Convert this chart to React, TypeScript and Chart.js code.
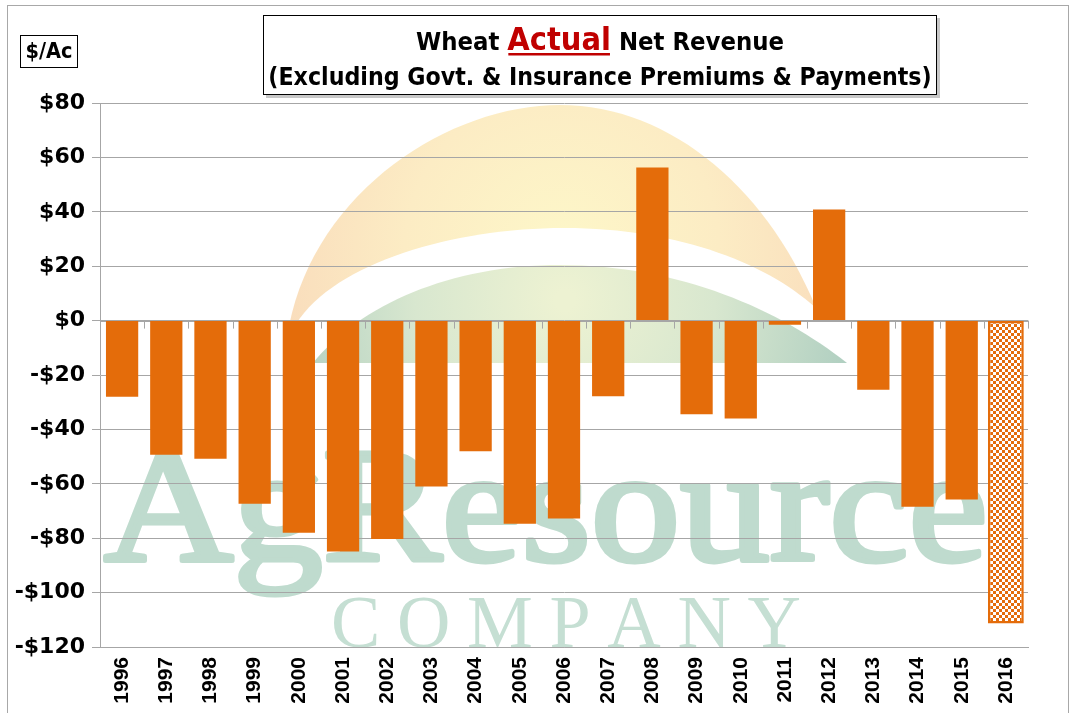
import React, { useEffect, useRef } from "react";
import { Chart, registerables } from "chart.js";

Chart.register(...registerables);

// ---------- data ----------
const years = [
  "1996", "1997", "1998", "1999", "2000", "2001", "2002", "2003", "2004", "2005", "2006",
  "2007", "2008", "2009", "2010", "2011", "2012", "2013", "2014", "2015", "2016",
];
const actualNet: (number | null)[] = [
  -28, -49.3, -50.8, -67.3, -78, -84.9, -80.3, -61, -48, -74.7, -72.8,
  -27.8, 56.3, -34.4, -36, -1.5, 40.8, -25.4, -68.4, -65.8, null,
];
const projectedNet: (number | null)[] = [
  null, null, null, null, null, null, null, null, null, null, null,
  null, null, null, null, null, null, null, null, null, -111.4,
];
const yMin = -120;
const yMax = 80;
const yStep = 20;
const titleParts = ["Wheat ", "Actual", " Net Revenue"];
const titleLine2 = "(Excluding Govt. & Insurance Premiums & Payments)";
const unitLabel = "$/Ac";
const watermarkMain = "AgResource";
const watermarkSub = "COMPANY";

const ORANGE = "#E46C0A";
const GRID = "#a6a6a6";
const TITLE_FAMILY = '"Liberation Sans Narrow", "DejaVu Sans Condensed", "Liberation Sans", Arial, sans-serif';

function makeChecker(ctx: CanvasRenderingContext2D) {
  const c = document.createElement("canvas");
  c.width = 6;
  c.height = 6;
  const g = c.getContext("2d")!;
  g.fillStyle = "#ffffff";
  g.fillRect(0, 0, 6, 6);
  g.fillStyle = ORANGE;
  g.fillRect(0, 0, 3, 3);
  g.fillRect(3, 3, 3, 3);
  return ctx.createPattern(c, "repeat");
}

const logoPlugin = {
  id: "logoBackdrop",
  beforeDraw(chart: any) {
    const ctx: CanvasRenderingContext2D = chart.ctx;
    ctx.save();
    ctx.fillStyle = "#ffffff";
    ctx.fillRect(0, 0, chart.width, chart.height);

    // outer frame
    ctx.strokeStyle = "#a8a8a8";
    ctx.lineWidth = 1;
    ctx.strokeRect(7.5, 5.5, 1061, 740);

    // sun
    const sun = ctx.createRadialGradient(562, 250, 15, 562, 250, 300);
    sun.addColorStop(0, "#fdf6c8");
    sun.addColorStop(0.5, "#fcecc4");
    sun.addColorStop(1, "#f9dbbb");
    ctx.fillStyle = sun;
    ctx.beginPath();
    ctx.moveTo(289, 326);
    ctx.bezierCurveTo(316, 190, 450, 105, 560, 105);
    ctx.bezierCurveTo(672, 105, 772, 192, 820, 318);
    ctx.closePath();
    ctx.fill();

    // white band
    ctx.fillStyle = "#ffffff";
    ctx.beginPath();
    ctx.moveTo(296, 324);
    ctx.bezierCurveTo(335, 262, 455, 228, 564, 228);
    ctx.bezierCurveTo(680, 228, 772, 265, 820, 312);
    ctx.lineTo(864, 372);
    ctx.lineTo(292, 372);
    ctx.closePath();
    ctx.fill();

    // green hill
    const gr = ctx.createRadialGradient(565, 300, 10, 565, 300, 290);
    gr.addColorStop(0, "#edf2d2");
    gr.addColorStop(0.5, "#d8e7cf");
    gr.addColorStop(1, "#b0cfc1");
    ctx.fillStyle = gr;
    ctx.beginPath();
    ctx.moveTo(313, 363);
    ctx.bezierCurveTo(360, 305, 450, 265, 560, 265);
    ctx.bezierCurveTo(680, 265, 780, 310, 847, 363);
    ctx.closePath();
    ctx.fill();

    // watermark text
    ctx.fillStyle = "#bfdbce";
    ctx.strokeStyle = "#bfdbce";
    ctx.lineWidth = 5;
    ctx.lineJoin = "round";
    ctx.textBaseline = "alphabetic";
    ctx.textAlign = "left";
    ctx.font = '164px "Liberation Serif", serif';
    const w = ctx.measureText(watermarkMain).width;
    ctx.save();
    ctx.translate(104, 560);
    ctx.scale(884 / w, 1);
    ctx.fillText(watermarkMain, 0, 0);
    ctx.strokeText(watermarkMain, 0, 0);
    ctx.restore();

    ctx.fillStyle = "#c5dfd3";
    ctx.font = '74px "Liberation Serif", serif';
    const letters = watermarkSub.split("");
    const widths = letters.map((l) => ctx.measureText(l).width);
    const total = widths.reduce((a, b) => a + b, 0);
    const gap = (470 - total) / (letters.length - 1);
    let x = 331;
    letters.forEach((l, i) => {
      ctx.fillText(l, x, 647);
      x += widths[i] + gap;
    });
    ctx.restore();
  },
};

const zeroTicksPlugin = {
  id: "zeroTicks",
  beforeDatasetsDraw(chart: any) {
    const ctx: CanvasRenderingContext2D = chart.ctx;
    const xs = chart.scales.x;
    const ys = chart.scales.y;
    const y0 = ys.getPixelForValue(0);
    const n = years.length;
    const step = (xs.right - xs.left) / n;
    ctx.save();
    ctx.strokeStyle = GRID;
    ctx.lineWidth = 1;
    ctx.beginPath();
    ctx.moveTo(xs.left, Math.round(y0) + 0.5);
    ctx.lineTo(xs.right, Math.round(y0) + 0.5);
    for (let i = 0; i <= n; i++) {
      const x = Math.round(xs.left + i * step) + 0.5;
      ctx.moveTo(x, y0);
      ctx.lineTo(x, y0 + 8);
    }
    ctx.stroke();
    ctx.restore();
  },
};

const titlePlugin = {
  id: "titleBoxes",
  afterDraw(chart: any) {
    const ctx: CanvasRenderingContext2D = chart.ctx;
    ctx.save();
    // title box
    ctx.fillStyle = "#c8c8c8";
    ctx.fillRect(266, 18, 674, 80);
    ctx.fillStyle = "#ffffff";
    ctx.fillRect(263, 15, 674, 80);
    ctx.strokeStyle = "#000000";
    ctx.lineWidth = 1;
    ctx.strokeRect(263.5, 15.5, 673, 79);

    const cx = 600;
    const F = (s: number) => `bold ${s}px ${TITLE_FAMILY}`;
    let s1 = 26;
    let s2 = 33;
    const measure1 = () => {
      ctx.font = F(s1);
      const a = ctx.measureText(titleParts[0]).width;
      const c = ctx.measureText(titleParts[2]).width;
      ctx.font = F(s2);
      const b = ctx.measureText(titleParts[1]).width;
      return [a, b, c];
    };
    let [wa, wb, wc] = measure1();
    const k = 368 / (wa + wb + wc);
    s1 *= k;
    s2 *= k;
    [wa, wb, wc] = measure1();
    let x = cx - (wa + wb + wc) / 2;
    const base1 = 50;
    ctx.textBaseline = "alphabetic";
    ctx.textAlign = "left";
    ctx.fillStyle = "#000000";
    ctx.font = F(s1);
    ctx.fillText(titleParts[0], x, base1);
    x += wa;
    ctx.fillStyle = "#C00000";
    ctx.font = F(s2);
    ctx.fillText(titleParts[1], x, base1);
    ctx.fillRect(x + 1, base1 + 3, wb - 2, 2.5);
    x += wb;
    ctx.fillStyle = "#000000";
    ctx.font = F(s1);
    ctx.fillText(titleParts[2], x, base1);

    // line 2
    let s3 = 24;
    ctx.font = F(s3);
    const w2 = ctx.measureText(titleLine2).width;
    s3 = (s3 * 664) / w2;
    ctx.font = F(s3);
    ctx.textAlign = "center";
    ctx.fillText(titleLine2, cx, 85);

    // unit box
    ctx.fillStyle = "#ffffff";
    ctx.fillRect(20, 35, 57, 32);
    ctx.strokeStyle = "#000000";
    ctx.strokeRect(20.5, 35.5, 57, 32);
    ctx.fillStyle = "#000000";
    let s4 = 22;
    ctx.font = F(s4);
    const w4 = ctx.measureText(unitLabel).width;
    s4 = (s4 * 47) / w4;
    ctx.font = F(Math.min(s4, 26));
    ctx.textAlign = "center";
    ctx.textBaseline = "middle";
    ctx.fillText(unitLabel, 49, 52);
    ctx.restore();
  },
};

export default function App() {
  const ref = useRef<HTMLCanvasElement | null>(null);

  useEffect(() => {
    document.body.style.margin = "0";
    const canvas = ref.current!;
    const ctx = canvas.getContext("2d")!;
    const checker = makeChecker(ctx);

    const chart = new Chart(ctx, {
      type: "bar",
      data: {
        labels: years,
        datasets: [
          {
            label: "Actual",
            data: actualNet,
            backgroundColor: ORANGE,
            borderWidth: 0,
            barPercentage: 0.73,
            categoryPercentage: 1,
            grouped: false,
          } as any,
          {
            label: "Projected",
            data: projectedNet,
            backgroundColor: checker as any,
            borderColor: ORANGE,
            borderWidth: 2.5,
            borderSkipped: false,
            barPercentage: 0.81,
            categoryPercentage: 1,
            grouped: false,
          } as any,
        ],
      },
      options: {
        animation: false,
        responsive: true,
        maintainAspectRatio: false,
        devicePixelRatio: 1,
        layout: { padding: { top: 103, right: 46, left: 0, bottom: 0 } },
        plugins: {
          legend: { display: false },
          title: { display: false },
          tooltip: { enabled: false },
        },
        scales: {
          x: {
            type: "category",
            grid: { display: false, drawTicks: false },
            border: { display: true, color: GRID, width: 1 },
            ticks: {
              autoSkip: false,
              maxRotation: 90,
              minRotation: 90,
              padding: 10,
              color: "#000000",
              font: { family: '"Liberation Sans", Arial, sans-serif', size: 21, weight: "bold" },
            },
            afterFit: (scale: any) => {
              scale.height = 66;
            },
          },
          y: {
            min: yMin,
            max: yMax,
            ticks: {
              stepSize: yStep,
              padding: 7,
              color: "#000000",
              font: { family: '"DejaVu Sans", sans-serif', size: 22, weight: "bold" },
              callback: (v: any) => (Number(v) < 0 ? "-$" : "$") + Math.abs(Number(v)),
            },
            grid: { color: GRID, lineWidth: 1, tickLength: 8, drawTicks: true },
            border: { display: true, color: GRID, width: 1 },
            afterFit: (scale: any) => {
              scale.width = 100;
            },
          },
        },
      },
      plugins: [logoPlugin, zeroTicksPlugin, titlePlugin],
    });
    return () => chart.destroy();
  }, []);

  return (
    <div style={{ position: "relative", width: "1074px", height: "713px" }}>
      <canvas ref={ref} />
    </div>
  );
}
